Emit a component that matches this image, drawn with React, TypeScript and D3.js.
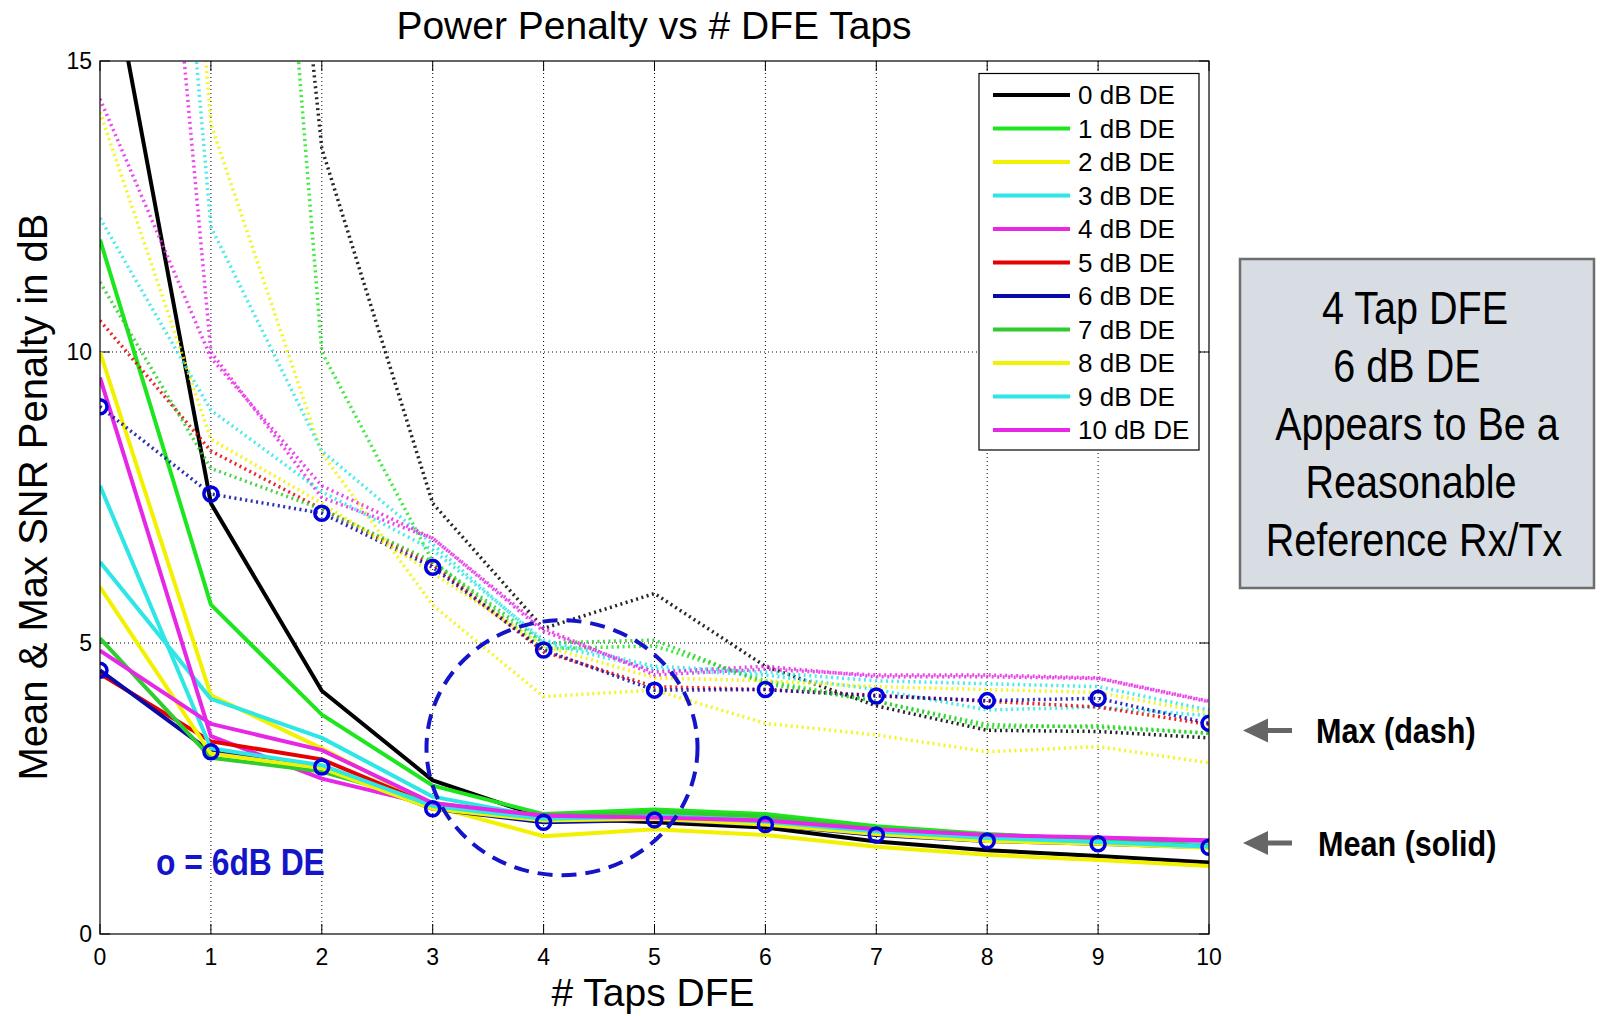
import React from 'react';
import * as d3 from 'd3';

// # DFE taps on the x axis
const taps = [0, 1, 2, 3, 4, 5, 6, 7, 8, 9, 10];

const deLabels = ['0 dB DE', '1 dB DE', '2 dB DE', '3 dB DE', '4 dB DE', '5 dB DE',
  '6 dB DE', '7 dB DE', '8 dB DE', '9 dB DE', '10 dB DE'];
const deColors = ['#000000', '#1ee61e', '#f2f200', '#2ee6e6', '#e628e6', '#e60000',
  '#0a0aa8', '#2ecc2e', '#f2f200', '#2ee6e6', '#e628e6'];

// mean penalty (solid)
const mean0 = [17.6, 7.4, 4.18, 2.64, 2.0, 1.92, 1.83, 1.59, 1.44, 1.34, 1.23];
const mean1 = [11.93, 5.66, 3.77, 2.55, 2.06, 2.14, 2.06, 1.85, 1.72, 1.62, 1.52];
const mean2 = [10.0, 4.1, 3.19, 2.2, 1.68, 1.8, 1.7, 1.5, 1.36, 1.27, 1.17];
const mean3 = [6.39, 4.04, 3.37, 2.36, 2.0, 2.05, 1.95, 1.78, 1.66, 1.58, 1.52];
const mean4 = [9.56, 3.4, 2.67, 2.21, 2.04, 2.02, 1.93, 1.78, 1.68, 1.65, 1.6];
const mean5 = [4.47, 3.31, 3.0, 2.2, 1.97, 1.97, 1.9, 1.74, 1.62, 1.57, 1.5];
const mean6 = [4.53, 3.13, 2.87, 2.15, 1.92, 1.96, 1.88, 1.7, 1.6, 1.55, 1.49];
const mean7 = [5.08, 3.03, 2.79, 2.25, 2.0, 2.1, 2.02, 1.8, 1.68, 1.6, 1.5];
const mean8 = [5.96, 3.1, 2.85, 2.15, 1.95, 1.98, 1.88, 1.72, 1.6, 1.55, 1.48];
const mean9 = [7.7, 3.19, 2.9, 2.2, 1.98, 2.02, 1.93, 1.76, 1.65, 1.58, 1.5];
const mean10 = [4.87, 3.61, 3.16, 2.25, 2.03, 2.0, 1.95, 1.8, 1.7, 1.66, 1.61];

// max penalty (dotted)
const max0 = [50, 32, 13.5, 7.4, 5.25, 5.85, 4.6, 3.92, 3.5, 3.48, 3.37];
const max1 = [45, 33.8, 10.0, 6.4, 4.9, 4.95, 4.35, 4.0, 3.55, 3.58, 3.45];
const max2 = [38, 13.92, 8.26, 5.65, 4.08, 4.19, 3.62, 3.42, 3.13, 3.22, 2.94];
const max3 = [34, 12.15, 8.3, 6.7, 5.0, 4.55, 4.45, 4.2, 3.85, 3.9, 3.75];
const max4 = [30.8, 10.0, 7.5, 6.8, 5.2, 4.5, 4.6, 4.42, 4.42, 4.39, 3.99];
const max5 = [10.54, 8.3, 7.3, 6.35, 4.85, 4.25, 4.2, 4.1, 4.0, 3.9, 3.6];
const max6 = [9.06, 7.56, 7.23, 6.3, 4.88, 4.19, 4.2, 4.09, 4.01, 4.05, 3.62];
const max7 = [11.2, 8.0, 7.3, 6.4, 5.0, 5.05, 4.3, 4.0, 3.6, 3.55, 3.45];
const max8 = [14.12, 8.5, 7.4, 6.2, 4.95, 4.4, 4.35, 4.25, 4.2, 4.15, 3.8];
const max9 = [12.3, 9.0, 7.6, 6.6, 5.05, 4.6, 4.5, 4.35, 4.3, 4.25, 3.85];
const max10 = [14.35, 9.9, 7.7, 6.8, 5.25, 4.45, 4.55, 4.45, 4.45, 4.4, 4.0];

const meanSeries = [mean0, mean1, mean2, mean3, mean4, mean5, mean6, mean7, mean8, mean9, mean10];
const maxSeries = [max0, max1, max2, max3, max4, max5, max6, max7, max8, max9, max10];

// highlighted area (taps, dB)
const focusCenter = [4.166, 3.2];
const focusRadius = [1.222, 2.19];

const boxLines = ['4  Tap DFE', '6 dB DE', 'Appears to Be a', 'Reasonable', 'Reference Rx/Tx'];

const W = 1600, H = 1016;
const m = { left: 100, right: 1209, top: 61, bottom: 934 };

const xScale = d3.scaleLinear().domain([0, 10]).range([m.left, m.right]);
const yScale = d3.scaleLinear().domain([0, 15]).range([m.bottom, m.top]);

const line = d3.line<number>()
  .x((d, i) => xScale(taps[i]))
  .y((d) => yScale(d));

const font = '"Liberation Sans", Arial, Helvetica, sans-serif';

export default function App() {
  const xt = xScale.ticks(10);
  const yt = yScale.ticks(3);
  const blue = '#1414c8';
  const ecx = xScale(focusCenter[0]);
  const ecy = yScale(focusCenter[1]);
  const erx = xScale(focusCenter[0] + focusRadius[0]) - ecx;
  const ery = ecy - yScale(focusCenter[1] + focusRadius[1]);

  return (
    <svg width={W} height={H} style={{ position: 'absolute', left: 0, top: 0, background: '#fff' }} fontFamily={font}>
      <defs>
        <clipPath id="plot">
          <rect x={m.left} y={m.top} width={m.right - m.left} height={m.bottom - m.top} />
        </clipPath>
      </defs>

      <text x={654} y={39} fontSize={39} textAnchor="middle">Power Penalty vs # DFE Taps</text>

      {/* grid */}
      {xt.filter((t) => t > 0 && t < 10).map((t) => (
        <line key={'gx' + t} x1={xScale(t)} x2={xScale(t)} y1={m.top} y2={m.bottom}
          stroke="#000" strokeWidth={1} strokeDasharray="1 3" />
      ))}
      {yt.filter((t) => t > 0 && t < 15).map((t) => (
        <line key={'gy' + t} x1={m.left} x2={m.right} y1={yScale(t)} y2={yScale(t)}
          stroke="#000" strokeWidth={1} strokeDasharray="1 3" />
      ))}

      {/* ticks inside */}
      {xt.map((t) => (
        <g key={'tx' + t}>
          <line x1={xScale(t)} x2={xScale(t)} y1={m.bottom} y2={m.bottom - 10} stroke="#000" />
          <line x1={xScale(t)} x2={xScale(t)} y1={m.top} y2={m.top + 10} stroke="#000" />
          <text x={xScale(t)} y={965} fontSize={23} textAnchor="middle">{t}</text>
        </g>
      ))}
      {yt.map((t) => (
        <g key={'ty' + t}>
          <line x1={m.left} x2={m.left + 10} y1={yScale(t)} y2={yScale(t)} stroke="#000" />
          <line x1={m.right} x2={m.right - 10} y1={yScale(t)} y2={yScale(t)} stroke="#000" />
          <text x={92} y={yScale(t) + 8} fontSize={23} textAnchor="end">{t}</text>
        </g>
      ))}

      <g clipPath="url(#plot)">
        {meanSeries.map((s, i) => (
          <path key={'mean' + i} d={line(s) || ''} fill="none" stroke={deColors[i]} strokeWidth={4}
            strokeLinejoin="round" />
        ))}
        {maxSeries.map((s, i) => (
          <path key={'max' + i} d={line(s) || ''} fill="none" stroke={deColors[i]} strokeWidth={3.5}
            strokeDasharray="2 3.5" opacity={0.85} />
        ))}
        {[mean6, max6].map((s, k) => s.map((v, i) => (
          <circle key={'c' + k + '-' + i} cx={xScale(taps[i])} cy={yScale(v)} r={7}
            fill="none" stroke="#0000dd" strokeWidth={3.5} />
        )))}
        <ellipse cx={ecx} cy={ecy} rx={erx} ry={ery} fill="none" stroke={blue} strokeWidth={4}
          strokeDasharray="15 9" />
      </g>

      <rect x={m.left} y={m.top} width={m.right - m.left} height={m.bottom - m.top}
        fill="none" stroke="#000" strokeWidth={1.2} />

      {/* legend */}
      <rect x={979} y={73.5} width={220} height={376.5} fill="#fff" stroke="#000" strokeWidth={1.2} />
      {deLabels.map((lab, i) => (
        <g key={'lg' + i}>
          <line x1={993} x2={1070} y1={95 + i * 33.5} y2={95 + i * 33.5} stroke={deColors[i]} strokeWidth={4} />
          <text x={1078} y={95 + i * 33.5 + 9} fontSize={26}>{lab}</text>
        </g>
      ))}

      <text x={653} y={1006} fontSize={39} textAnchor="middle"># Taps DFE</text>
      <text transform="translate(47,497) rotate(-90)" fontSize={40} textAnchor="middle">Mean &amp; Max SNR Penalty in dB</text>

      <text transform="translate(156,875) scale(0.86,1)" fontSize={37} fontWeight="bold" fill={blue}>o = 6dB DE</text>

      {/* call-out box */}
      <rect x={1240} y={259} width={354} height={329} fill="#d8dde3" stroke="#6e6e6e" strokeWidth={2.5} />
      {boxLines.map((t, i) => (
        <text key={'bl' + i} transform={`translate(${[1415, 1407, 1417, 1411, 1414][i]},${324 + i * 58}) scale(0.86,1)`}
          fontSize={46} textAnchor="middle">{t}</text>
      ))}

      {/* arrows */}
      {[730.6, 843].map((ay, i) => (
        <g key={'ar' + i} fill="#666">
          <path d={`M1243,${ay} L1268,${ay - 12} L1268,${ay - 2.5} L1292,${ay - 2.5} L1292,${ay + 2.5} L1268,${ay + 2.5} L1268,${ay + 12} Z`} />
        </g>
      ))}
      <text transform="translate(1316,743) scale(0.85,1)" fontSize={36} fontWeight="bold">Max (dash)</text>
      <text transform="translate(1318,856) scale(0.85,1)" fontSize={36} fontWeight="bold">Mean (solid)</text>
    </svg>
  );
}
